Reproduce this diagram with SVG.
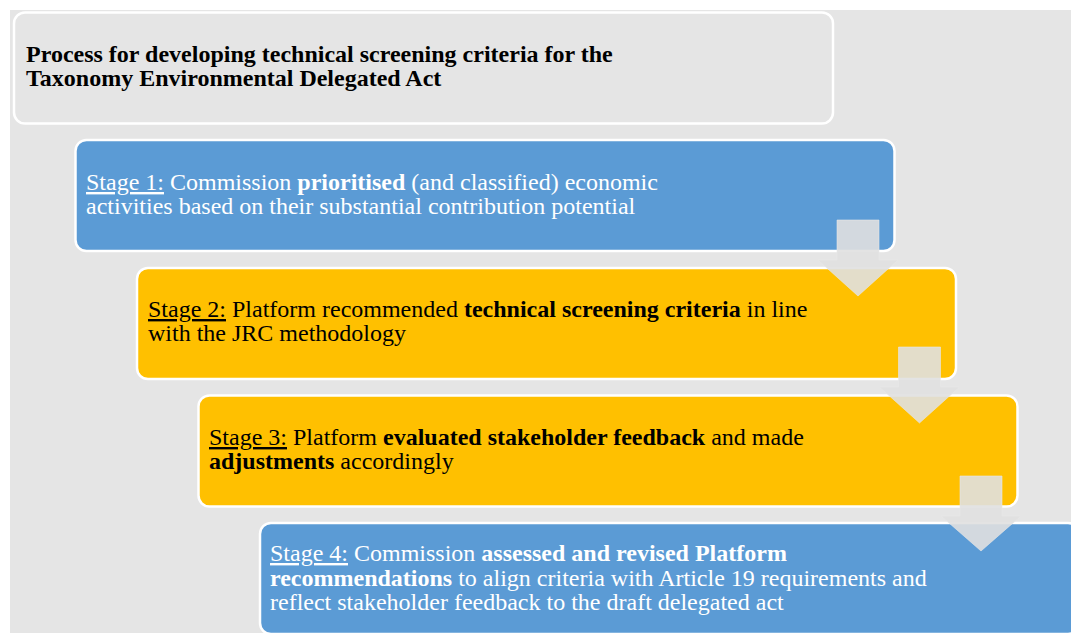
<svg xmlns="http://www.w3.org/2000/svg" width="1071" height="633" viewBox="0 0 1071 633">
<style>
.t{font-family:"Liberation Serif","Times New Roman",serif;font-size:24px}
.b{font-weight:bold}
.u{text-decoration:underline}
.box{stroke:#ffffff;stroke-width:2.5}
.blue{fill:#5b9bd5}
.yellow{fill:#ffc000}
.wt{fill:#ffffff}
.bk{fill:#000000}
.arrow{fill:#e0e0e0;fill-opacity:0.9;stroke:#e8e8e8;stroke-width:1;stroke-opacity:0.6}
</style>
<rect x="0" y="0" width="1071" height="633" fill="#ffffff"/>
<rect x="10" y="10" width="1061" height="623" fill="#e5e5e5"/>
<g id="title">
<rect class="box" x="14" y="12.5" width="819" height="111" rx="11" fill="#e5e5e5"/>
<text class="t b bk" x="26" y="62">Process for developing technical screening criteria for the</text>
<text class="t b bk" x="26" y="86">Taxonomy Environmental Delegated Act</text>
</g>
<g id="stage1">
<rect class="box blue" x="75.5" y="140" width="819" height="111" rx="11"/>
<text class="t wt" x="86" y="190"><tspan class="u">Stage 1:</tspan><tspan> Commission </tspan><tspan class="b">prioritised</tspan><tspan> (and classified) economic</tspan></text>
<text class="t wt" x="86" y="214">activities based on their substantial contribution potential</text>
</g>
<g id="stage2">
<rect class="box yellow" x="137" y="268" width="819" height="111" rx="11"/>
<text class="t bk" x="148" y="317"><tspan class="u">Stage 2:</tspan><tspan> Platform recommended </tspan><tspan class="b">technical screening criteria</tspan><tspan> in line</tspan></text>
<text class="t bk" x="148" y="341">with the JRC methodology</text>
</g>
<g id="stage3">
<rect class="box yellow" x="198.5" y="395.5" width="819" height="111" rx="11"/>
<text class="t bk" x="209" y="445"><tspan class="u">Stage 3:</tspan><tspan> Platform </tspan><tspan class="b">evaluated stakeholder feedback</tspan><tspan> and made</tspan></text>
<text class="t bk" x="209" y="469"><tspan class="b">adjustments</tspan><tspan> accordingly</tspan></text>
</g>
<g id="stage4">
<rect class="box blue" x="260" y="523" width="819" height="111" rx="11"/>
<text class="t wt" x="270" y="561"><tspan class="u">Stage 4:</tspan><tspan> Commission </tspan><tspan class="b">assessed and revised Platform</tspan></text>
<text class="t wt" x="270" y="586"><tspan class="b">recommendations</tspan><tspan> to align criteria with Article 19 requirements and</tspan></text>
<text class="t wt" x="270" y="610">reflect stakeholder feedback to the draft delegated act</text>
</g>
<g id="connectors">
<path class="arrow" d="M837,220 H879 V260 H898 L858,296 L818,260 H837 Z"/>
<path class="arrow" d="M898.5,347 H940.5 V387 H959.5 L919.5,423 L879.5,387 H898.5 Z"/>
<path class="arrow" d="M960,476 H1002 V516 H1021 L981,551 L941,516 H960 Z"/>
</g>
</svg>
